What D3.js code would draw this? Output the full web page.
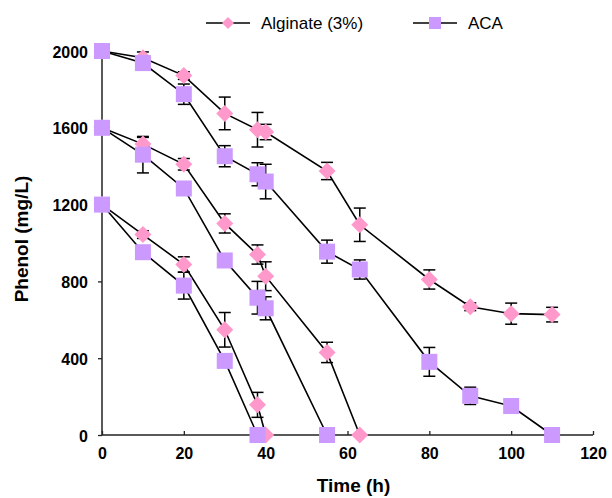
<!DOCTYPE html>
<html>
<head>
<meta charset="utf-8">
<script src="https://cdn.jsdelivr.net/npm/d3@7"></script>
<style>
  body { margin: 0; background: #fff; }
  svg { display: block; }
  text { font-family: "Liberation Sans", Arial, sans-serif; }
  .tick text { font-weight: bold; font-size: 16px; }
  .axis-label { font-weight: bold; font-size: 19px; }
  .legend text { font-size: 17px; }
</style>
</head>
<body>
<svg width="612" height="498"></svg>
<script>
  // values, phenol (mg/L) vs time (h), +/- error
  const alg2000T = [0, 10, 20, 30, 38, 40, 55, 63, 80, 90, 100, 110];
  const alg2000 = [2000, 1965, 1872, 1675, 1590, 1578, 1375, 1095, 810, 668, 632, 627];
  const alg2000Err = [0, 30, 20, 85, 90, 40, 45, 87, 50, 20, 55, 38];

  const aca2000T = [0, 10, 20, 30, 38, 40, 55, 63, 80, 90, 100, 110];
  const aca2000 = [2000, 1937, 1775, 1452, 1358, 1320, 955, 862, 381, 204, 151, 0];
  const aca2000Err = [0, 15, 53, 55, 60, 90, 60, 50, 75, 45, 0, 0];

  const alg1600T = [0, 10, 20, 30, 38, 40, 55, 63];
  const alg1600 = [1600, 1515, 1410, 1102, 940, 827, 430, 0];
  const alg1600Err = [0, 35, 30, 50, 50, 75, 53, 0];

  const aca1600T = [0, 10, 20, 30, 38, 40, 55];
  const aca1600 = [1600, 1460, 1284, 909, 715, 660, 0];
  const aca1600Err = [0, 95, 20, 0, 85, 60, 0];

  const alg1200T = [0, 10, 20, 30, 38, 40];
  const alg1200 = [1200, 1044, 888, 548, 157, 0];
  const alg1200Err = [0, 20, 40, 90, 65, 0];

  const aca1200T = [0, 10, 20, 30, 38];
  const aca1200 = [1200, 952, 778, 386, 0];
  const aca1200Err = [0, 20, 70, 20, 0];

  const xTicks = [0, 20, 40, 60, 80, 100, 120];
  const yTicks = [0, 400, 800, 1200, 1600, 2000];
  const legendNames = ['Alginate (3%)', 'ACA'];

  const pink = '#ff99cc';
  const purple = '#cc99ff';

  const zip = (t, v, e) => t.map((d, i) => ({ t: d, v: v[i], e: e[i] }));
  const series = [
    { kind: 'alg', pts: zip(alg2000T, alg2000, alg2000Err) },
    { kind: 'alg', pts: zip(alg1600T, alg1600, alg1600Err) },
    { kind: 'alg', pts: zip(alg1200T, alg1200, alg1200Err) },
    { kind: 'aca', pts: zip(aca2000T, aca2000, aca2000Err) },
    { kind: 'aca', pts: zip(aca1600T, aca1600, aca1600Err) },
    { kind: 'aca', pts: zip(aca1200T, aca1200, aca1200Err) }
  ];

  const svg = d3.select('svg');
  const margin = { top: 51, right: 19, bottom: 63, left: 102 };
  const innerWidth = 612 - margin.left - margin.right;
  const innerHeight = 498 - margin.top - margin.bottom;

  const x = d3.scaleLinear().domain([0, 120]).range([0, innerWidth]);
  const y = d3.scaleLinear().domain([0, 2000]).range([innerHeight, 0]);

  const g = svg.append('g')
    .attr('transform', `translate(${margin.left},${margin.top})`);

  // axes
  const xAxisG = g.append('g')
    .attr('transform', `translate(0,${innerHeight})`)
    .call(d3.axisBottom(x).tickValues(xTicks).tickFormat(d3.format('d')).tickSize(-4).tickPadding(12));
  const yAxisG = g.append('g')
    .call(d3.axisLeft(y).tickValues(yTicks).tickFormat(d3.format('d')).tickSize(4).tickPadding(10));
  [xAxisG, yAxisG].forEach(a => {
    a.attr('font-family', null).attr('font-size', null);
    a.select('.domain').attr('stroke', '#222').attr('stroke-width', 1.5);
    a.selectAll('.tick line').attr('stroke', '#222').attr('stroke-width', 1.3);
    a.selectAll('.tick text').attr('fill', '#000');
  });
  xAxisG.selectAll('.tick text').attr('dy', null).attr('y', 24);
  yAxisG.selectAll('.tick text').attr('dy', null).attr('y', 6);
  xAxisG.select('.domain').attr('d', `M0,0H${innerWidth}`);
  yAxisG.select('.domain').attr('d', `M0,${innerHeight}V0`);

  g.append('text')
    .attr('class', 'axis-label')
    .attr('x', innerWidth / 2 + 6)
    .attr('y', innerHeight + 57)
    .attr('text-anchor', 'middle')
    .text('Time (h)');

  g.append('text')
    .attr('class', 'axis-label')
    .attr('transform', `translate(-74,${innerHeight / 2 - 4}) rotate(-90)`)
    .attr('text-anchor', 'middle')
    .text('Phenol (mg/L)');

  const line = d3.line().x(d => x(d.t)).y(d => y(d.v));
  const diamond = (s) => `M0,${-s}L${s},0L0,${s}L${-s},0Z`;

  series.forEach(s => {
    g.append('path')
      .datum(s.pts)
      .attr('fill', 'none')
      .attr('stroke', '#000')
      .attr('stroke-width', 1.6)
      .attr('d', line);
  });

  series.forEach(s => {
    const eb = g.append('g').attr('stroke', '#000').attr('stroke-width', 1.5);
    s.pts.filter(d => d.e > 0).forEach(d => {
      const cx = x(d.t), y1 = y(d.v + d.e), y2 = y(d.v - d.e);
      eb.append('line').attr('x1', cx).attr('x2', cx).attr('y1', y1).attr('y2', y2);
      eb.append('line').attr('x1', cx - 6).attr('x2', cx + 6).attr('y1', y1).attr('y2', y1);
      eb.append('line').attr('x1', cx - 6).attr('x2', cx + 6).attr('y1', y2).attr('y2', y2);
    });
  });

  series.forEach(s => {
    const m = g.append('g');
    s.pts.forEach(d => {
      if (s.kind === 'alg') {
        m.append('path')
          .attr('transform', `translate(${x(d.t)},${y(d.v)})`)
          .attr('d', diamond(8.5))
          .attr('fill', pink);
      } else {
        m.append('rect')
          .attr('x', x(d.t) - 8).attr('y', y(d.v) - 8)
          .attr('width', 16).attr('height', 16)
          .attr('fill', purple);
      }
    });
  });

  // legend
  const legend = svg.append('g').attr('class', 'legend');
  const legendX = [206, 413];
  legendNames.forEach((name, i) => {
    const lg = legend.append('g').attr('transform', `translate(${legendX[i]},23)`);
    lg.append('line').attr('x1', 0).attr('x2', 44).attr('stroke', '#000').attr('stroke-width', 1.5);
    if (i === 0) {
      lg.append('path').attr('transform', 'translate(22,0)').attr('d', diamond(6)).attr('fill', pink);
    } else {
      lg.append('rect').attr('x', 16).attr('y', -6).attr('width', 12).attr('height', 12).attr('fill', purple);
    }
    lg.append('text').attr('x', 55).attr('y', 6).text(name);
  });
</script>
</body>
</html>
